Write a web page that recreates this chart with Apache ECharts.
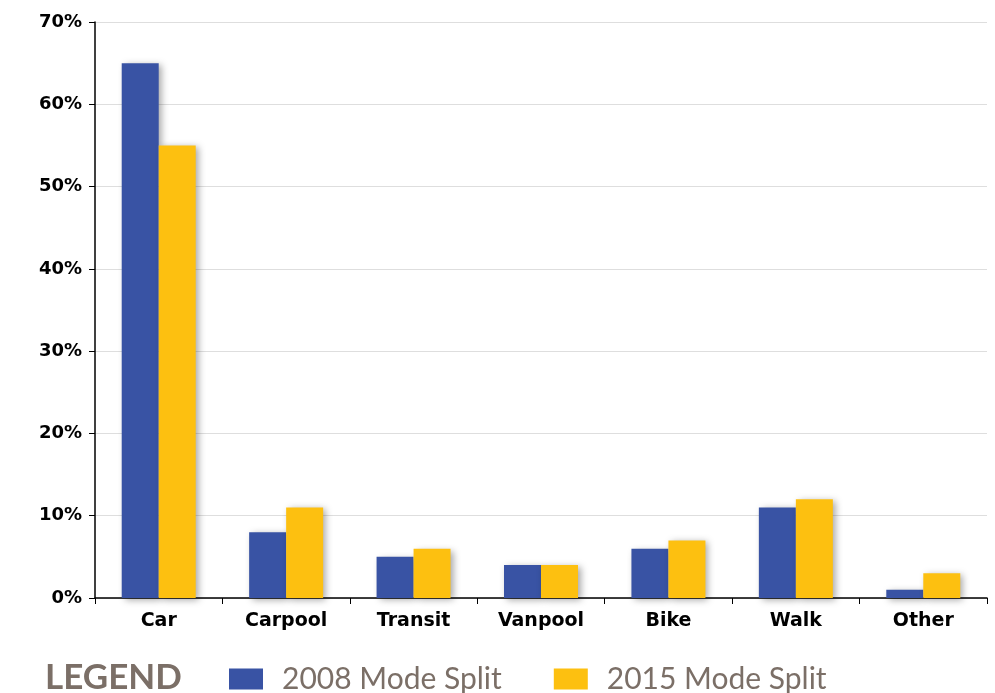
<!DOCTYPE html>
<html>
<head>
<meta charset="utf-8">
<script src="https://cdn.jsdelivr.net/npm/echarts@6/dist/echarts.min.js"></script>
<style>
  html, body { margin: 0; padding: 0; background: #fff; }
  #chart { width: 995px; height: 693px; }
</style>
</head>
<body>
<div id="chart"></div>
<script>
const categories = ['Car', 'Carpool', 'Transit', 'Vanpool', 'Bike', 'Walk', 'Other']
const split2008 = [65, 8, 5, 4, 6, 11, 1]
const split2015 = [55, 11, 6, 4, 7, 12, 3]
const seriesNames = ['2008 Mode Split', '2015 Mode Split']

const chart = echarts.init(document.getElementById('chart'))
const barShadow = {
  shadowColor: 'rgba(0,0,0,0.35)',
  shadowBlur: 7,
  shadowOffsetX: 3,
  shadowOffsetY: 2
}
chart.setOption({
  animation: false,
  textStyle: { fontFamily: 'DejaVu Sans' },
  title: {
    text: 'LEGEND',
    left: 40,
    bottom: -7,
    textStyle: { fontFamily: 'Lato', fontSize: 35, fontWeight: 'bold', color: '#7b6f67' }
  },
  legend: {
    data: seriesNames,
    left: 224,
    bottom: -6,
    itemWidth: 34,
    itemHeight: 21,
    itemGap: 52,
    icon: 'rect',
    textStyle: { fontFamily: 'Lato', fontSize: 30, color: '#7b6f67', padding: [4, 0, 0, 14] }
  },
  grid: { left: 95, right: 8, top: 22, bottom: 95 },
  xAxis: {
    type: 'category',
    data: categories,
    axisLine: { lineStyle: { color: '#000', width: 1.5 } },
    axisTick: { show: true, length: 6, lineStyle: { color: '#000' } },
    axisLabel: { fontFamily: 'DejaVu Sans', color: '#000', fontSize: 19, fontWeight: 'bold', margin: 14 }
  },
  yAxis: {
    type: 'value',
    min: 0,
    max: 70,
    interval: 10,
    axisLine: { show: true, lineStyle: { color: '#000', width: 1.5 } },
    axisTick: { show: true, length: 6, lineStyle: { color: '#000' } },
    axisLabel: { fontFamily: 'DejaVu Sans', color: '#000', fontSize: 18, fontWeight: 'bold', margin: 13, formatter: '{value}%' },
    splitLine: { lineStyle: { color: '#dedede', width: 1 } }
  },
  series: [
    {
      name: seriesNames[0],
      type: 'bar',
      data: split2008,
      barWidth: 37,
      barGap: '0%',
      itemStyle: Object.assign({ color: '#3953a4' }, barShadow)
    },
    {
      name: seriesNames[1],
      type: 'bar',
      data: split2015,
      barWidth: 37,
      barGap: '0%',
      itemStyle: Object.assign({ color: '#fdc010' }, barShadow)
    }
  ]
})
</script>
</body>
</html>
